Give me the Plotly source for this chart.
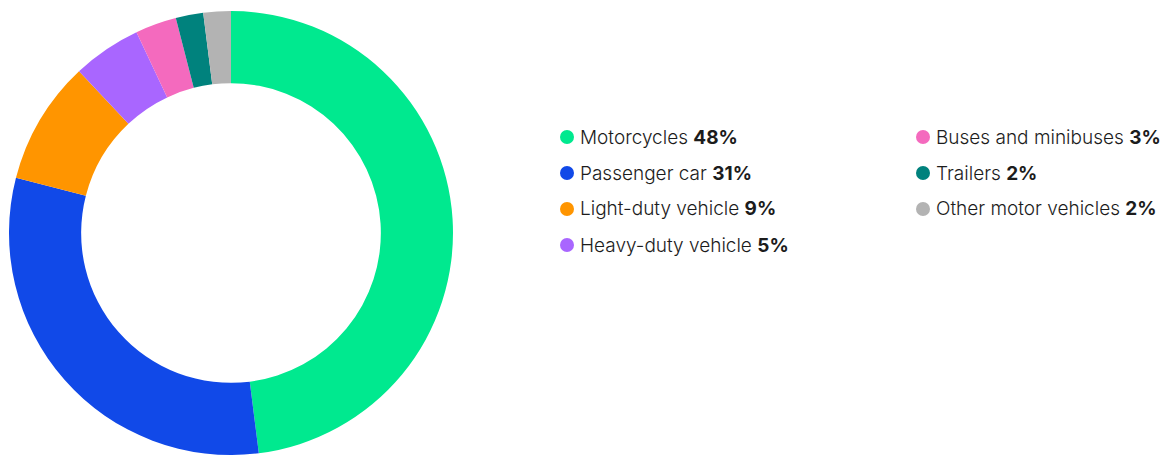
import plotly.graph_objects as go

# Vehicle fleet composition
categories = ["Motorcycles", "Passenger car", "Light-duty vehicle", "Heavy-duty vehicle",
              "Buses and minibuses", "Trailers", "Other motor vehicles"]
shares = [48, 31, 9, 5, 3, 2, 2]
colors = ["#00E98F", "#1149E8", "#FF9500", "#A966FF", "#F46ABE", "#00827D", "#B3B3B3"]

W, H = 1170, 455
FONT = "Inter"
TEXT_COLOR = "#1c1c1c"

fig = go.Figure()
fig.add_trace(go.Pie(
    labels=categories,
    values=shares,
    hole=0.675,
    sort=False,
    direction="clockwise",
    rotation=0,
    marker=dict(colors=colors, line=dict(width=0)),
    textinfo="none",
    hoverinfo="label+percent",
    showlegend=False,
    domain=dict(x=[9 / W, 453 / W], y=[0.0, 444 / H]),
))

# Two-column legend: coloured dot + label + bold share
col_x = [567, 923]
row_y = [137, 173, 209, 245]
per_col = 4
shapes, annotations = [], []
for i, (name, val, col) in enumerate(zip(categories, shares, colors)):
    c, r = divmod(i, per_col)
    cx, cy = col_x[c], row_y[r]
    shapes.append(dict(
        type="circle", xref="paper", yref="paper",
        xsizemode="pixel", ysizemode="pixel",
        xanchor=cx / W, yanchor=1 - cy / H,
        x0=-7, x1=7, y0=-7, y1=7,
        fillcolor=col, line=dict(width=0),
    ))
    annotations.append(dict(
        xref="paper", yref="paper",
        x=(cx + 11) / W, y=1 - cy / H,
        xanchor="left", yanchor="middle",
        text=f"{name} <b>{val}%</b>",
        showarrow=False,
        font=dict(family=FONT, size=19, color=TEXT_COLOR, weight=300),
    ))

fig.update_layout(
    width=W, height=H,
    margin=dict(l=0, r=0, t=0, b=0),
    paper_bgcolor="white",
    plot_bgcolor="white",
    shapes=shapes,
    annotations=annotations,
    font=dict(family=FONT),
)

fig.write_html("out.html")
